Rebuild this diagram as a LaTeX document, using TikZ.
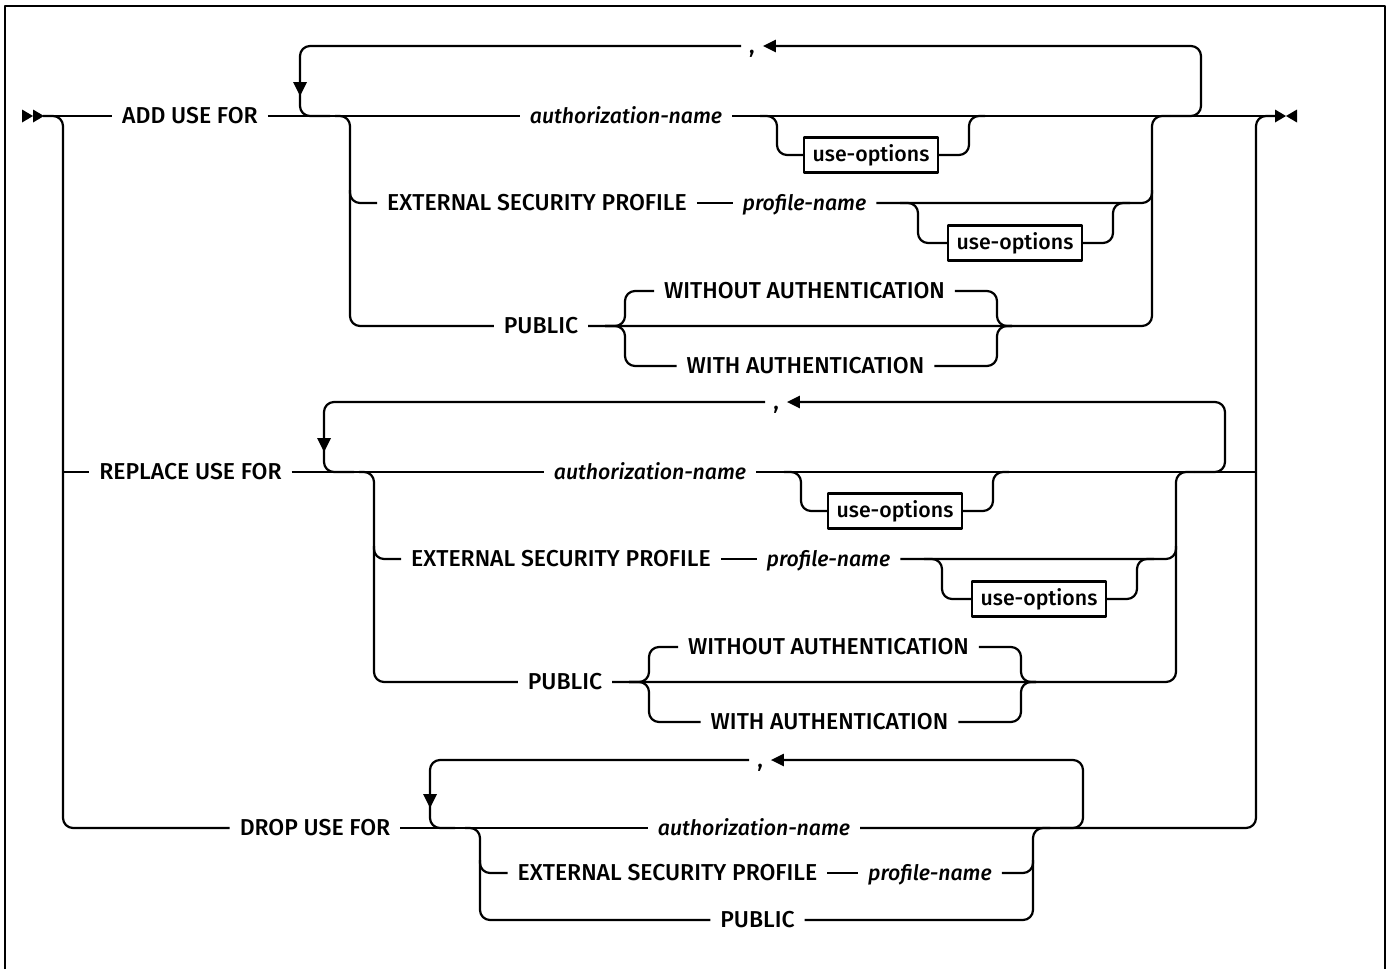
\documentclass[tikz,border=0pt]{standalone}
\usepackage{fontspec}
\setmainfont{Fira Sans}[UprightFont={* Medium}, ItalicFont={* Medium Italic}]
\usetikzlibrary{arrows.meta}
\newcommand\useblock[1]{%
  \node[var] (#1auth) at (626,116) {authorization-name};
  \node[uobox] (#1uoa) at (871,155) {use-options};
  \node[kw] (#1ext) at (537,203) {EXTERNAL SECURITY PROFILE};
  \node[var] (#1prof) at (804.5,203) {profile-name};
  \node[uobox] (#1uob) at (1015,243) {use-options};
  \node[kw] (#1pub) at (541,326) {PUBLIC};
  \node[kw] (#1wo) at (804.5,291) {WITHOUT AUTHENTICATION};
  \node[kw] (#1wa) at (805.5,366) {WITH AUTHENTICATION};
  \node[kw, inner xsep=7pt] (#1comma) at (752,46) {,};
  % repeat loop
  \draw[rc] (#1comma.west) -| (300,116) -- (330,116);
  \fill (293,82) -- (307,82) -- (300,96) -- cycle;
  \draw[rc, loopar] (1170,116) -| (1201,46) -- (#1comma.east);
  % choices
  \draw[rc] (335,116) -- (350,116) -- (350,326) -- (#1pub.west);
  \draw[rc] (350,190) -- (350,203) -- (#1ext.west);
  \draw (#1ext.east) -- (#1prof.west);
  \draw[rc] (#1prof.east) -- (1152,203) -- (1152,190);
  \draw[rc] (#1pub.east) -- (1152,326) -- (1152,116) -- (1170,116);
  % optional use-options
  \draw[rc] (760,116) -- (777,116) -- (777,155) -- (#1uoa.west);
  \draw[rc] (#1uoa.east) -- (969,155) -- (969,116) -- (985,116);
  \draw[rc] (900,203) -- (918,203) -- (918,243) -- (#1uob.west);
  \draw[rc] (#1uob.east) -- (1113,243) -- (1113,203) -- (1130,203);
  % authentication choice
  \draw[rc] (605,326) -- (625,326) -- (625,291) -- (#1wo.west);
  \draw[rc] (605,326) -- (625,326) -- (625,366) -- (#1wa.west);
  \draw[rc] (#1wo.east) -- (997,291) -- (997,326) -- (1012,326);
  \draw[rc] (#1wa.east) -- (997,366) -- (997,326) -- (1012,326);
}
\begin{document}
\begin{tikzpicture}[x=1pt,y=-1pt,
  line width=2.2pt, line join=round,
  rc/.style={rounded corners=10pt},
  kw/.style={inner xsep=9pt, inner ysep=0pt, text height=15.8pt, text depth=0pt,
    font=\fontsize{23}{26}\selectfont},
  var/.style={kw, text height=14.8pt, font=\fontsize{21.3}{24}\selectfont\itshape},
  uobox/.style={draw, line width=2.2pt, minimum width=134pt, minimum height=35pt,
    inner sep=0pt, font=\fontsize{21.3}{24}\selectfont},
  loopar/.style={-{Triangle[length=13pt,width=12pt]}}]
\useasboundingbox (0,0) rectangle (1389,969);
\draw[line width=2.6pt] (5,969) -- (5,6) -- (1385,6) -- (1385,969);
% start and end markers
\fill (22,109.5) -- (33,116) -- (22,122.5) -- cycle;
\fill (33,109.5) -- (44,116) -- (33,122.5) -- cycle;
\fill (1275,109.5) -- (1286,116) -- (1275,122.5) -- cycle;
\fill (1297,109.5) -- (1286,116) -- (1297,122.5) -- cycle;
\coordinate (start) at (43,116);
\coordinate (finish) at (1275,116);
% keywords
\node[kw] (addkw) at (190,116) {ADD USE FOR};
\node[kw] (repkw) at (190.5,472) {REPLACE USE FOR};
\node[kw] (dkw) at (315,828) {DROP USE FOR};
\draw (start) -- (addkw.west);
\draw[rc] (start) -- (63,116) -- (63,828) -- (dkw.west);
\draw (63,472) -- (repkw.west);
% ADD and REPLACE blocks
\useblock{a}
\draw (addkw.east) -- (aauth.west);
\draw (aauth.east) -- (finish);
\begin{scope}[shift={(24,356)}]
\useblock{r}
\end{scope}
\coordinate (rjoin) at (1256,472);
\draw (repkw.east) -- (rauth.west);
\draw (rauth.east) -- (rjoin);
% DROP block
\node[kw, inner xsep=7pt] (dcomma) at (760,760) {,};
\node[var] (dauth) at (754,828) {authorization-name};
\node[kw] (dext) at (667.5,873) {EXTERNAL SECURITY PROFILE};
\node[var] (dprof) at (930,873) {profile-name};
\node[kw] (dpub) at (757.5,920) {PUBLIC};
\draw (dkw.east) -- (dauth.west);
\draw[rc] (dcomma.west) -| (430,828) -- (455,828);
\fill (423,794) -- (437,794) -- (430,808) -- cycle;
\draw[rc, loopar] (1060,828) -| (1083,760) -- (dcomma.east);
\draw[rc] (465,828) -- (480,828) -- (480,920) -- (dpub.west);
\draw[rc] (480,860) -- (480,873) -- (dext.west);
\draw (dext.east) -- (dprof.west);
\draw[rc] (dprof.east) -- (1033,873) -- (1033,860);
\draw[rc] (dpub.east) -- (1033,920) -- (1033,828) -- (1050,828);
% right rail to end
\draw[rc] (dauth.east) -- (1256,828) -- (1256,116) -- (finish);
\end{tikzpicture}
\end{document}
